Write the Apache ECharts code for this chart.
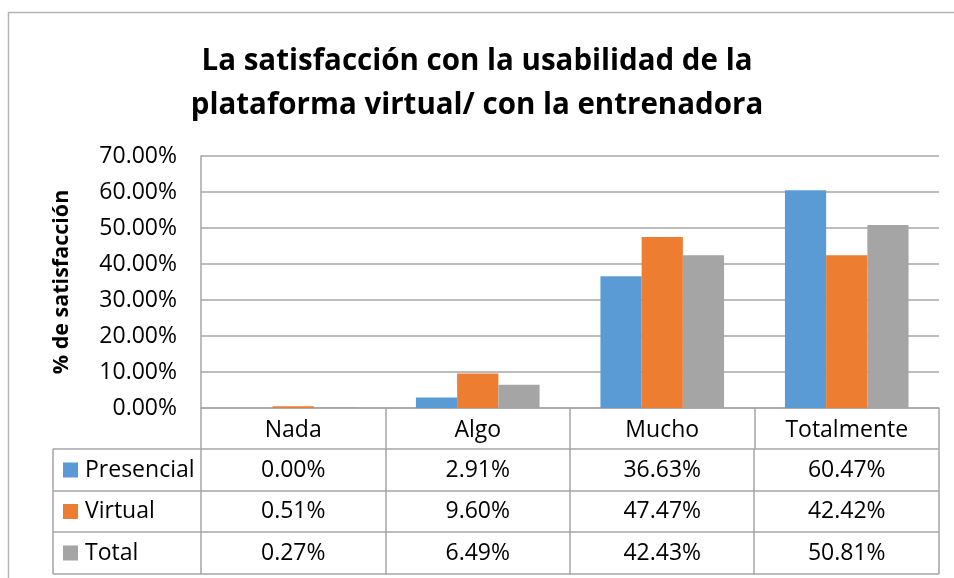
<!DOCTYPE html>
<html>
<head>
<meta charset="utf-8">
<script src="https://cdn.jsdelivr.net/npm/echarts@6.0.0/dist/echarts.min.js"></script>
<style>
  html, body { margin: 0; padding: 0; background: #fff; }
  #main { width: 954px; height: 578px; }
</style>
</head>
<body>
<div id="main"></div>
<script>
// datos (porcentajes)
var categorias = ['Nada', 'Algo', 'Mucho', 'Totalmente'];
var nombres = ['Presencial', 'Virtual', 'Total'];
var presencial = [0.00, 2.91, 36.63, 60.47];
var virtual = [0.51, 9.60, 47.47, 42.42];
var total = [0.27, 6.49, 42.43, 50.81];
var colores = ['#5B9BD5', '#ED7D31', '#A5A5A5'];

var FONT = "'Open Sans', 'Noto Sans', sans-serif";
var LINE = '#a6a6a6';
var FS = 23;

var myChart = echarts.init(document.getElementById('main'));

function pct(v) { return v.toFixed(2) + '%'; }

var option = {
	animation: false,
	backgroundColor: '#fff',
	textStyle: { fontFamily: FONT },
	title: {
		text: 'La satisfacción con la usabilidad de la\nplataforma virtual/ con la entrenadora',
		left: 'center',
		top: 35,
		textStyle: {
			fontFamily: FONT,
			fontWeight: 'bold',
			fontSize: 29.5,
			lineHeight: 44,
			color: '#000'
		}
	},
	grid: { left: 201, right: 15, top: 156, bottom: 170 },
	xAxis: {
		type: 'category',
		data: categorias,
		axisLine: { show: true, lineStyle: { color: LINE, width: 1.5 } },
		axisTick: { show: true, length: 41, lineStyle: { color: LINE, width: 1.5 } },
		axisLabel: { color: '#000', fontSize: FS, fontFamily: FONT, margin: 11 }
	},
	yAxis: {
		type: 'value',
		min: 0,
		max: 70,
		interval: 10,
		name: '% de satisfacción',
		nameLocation: 'middle',
		nameGap: 128,
		nameTextStyle: { fontFamily: FONT, fontWeight: 'bold', fontSize: 21.5, color: '#000' },
		axisLine: { show: true, lineStyle: { color: LINE, width: 1.5 } },
		axisTick: { show: false },
		axisLabel: { color: '#000', fontSize: FS, fontFamily: FONT, margin: 24, formatter: pct },
		splitLine: { lineStyle: { color: LINE, width: 1.5 } }
	},
	series: [
		{ name: nombres[0], type: 'bar', data: presencial, itemStyle: { color: colores[0] }, barGap: '0%', barCategoryGap: '33%' },
		{ name: nombres[1], type: 'bar', data: virtual, itemStyle: { color: colores[1] }, barGap: '0%', barCategoryGap: '33%' },
		{ name: nombres[2], type: 'bar', data: total, itemStyle: { color: colores[2] }, barGap: '0%', barCategoryGap: '33%' }
	]
};
myChart.setOption(option);

// tabla de datos debajo del grafico
var filas = [presencial, virtual, total];
var xs = [201, 386, 570, 754, 939]; // limites de columnas
var tablaIzq = 53;
var ys = [449, 491, 532, 574];
var g = [];
// borde exterior del grafico
g.push({ type: 'rect', shape: { x: 8.5, y: 12.5, width: 1000, height: 1000 }, style: { fill: null, stroke: '#b4b4b4', lineWidth: 1.5 }, silent: true });
// lineas horizontales
for (var r = 0; r < ys.length; r++) {
	g.push({ type: 'line', shape: { x1: tablaIzq, y1: ys[r], x2: xs[4], y2: ys[r] }, style: { stroke: LINE, lineWidth: 1.5 } });
}
// lineas verticales
g.push({ type: 'line', shape: { x1: tablaIzq, y1: ys[0], x2: tablaIzq, y2: ys[3] }, style: { stroke: LINE, lineWidth: 1.5 } });
for (var c = 0; c < xs.length; c++) {
	g.push({ type: 'line', shape: { x1: xs[c], y1: ys[0], x2: xs[c], y2: ys[3] }, style: { stroke: LINE, lineWidth: 1.5 } });
}
for (var r = 0; r < filas.length; r++) {
	var yc = (ys[r] + ys[r + 1]) / 2;
	g.push({ type: 'rect', shape: { x: 63, y: yc - 7.5, width: 15, height: 15 }, style: { fill: colores[r] } });
	g.push({ type: 'text', x: 85, y: yc, style: { text: nombres[r], fontFamily: FONT, fontSize: FS, fill: '#000', verticalAlign: 'middle' } });
	for (var c = 0; c < categorias.length; c++) {
		var xc = myChart.convertToPixel({ xAxisIndex: 0 }, categorias[c]);
		g.push({ type: 'text', x: xc, y: yc, style: { text: pct(filas[r][c]), fontFamily: FONT, fontSize: FS, fill: '#000', align: 'center', verticalAlign: 'middle' } });
	}
}
myChart.setOption({ graphic: g });
</script>
</body>
</html>
